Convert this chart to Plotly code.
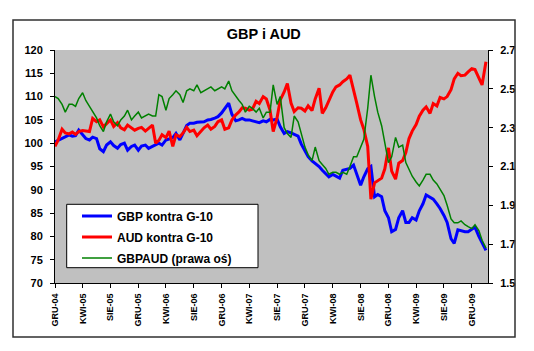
import pandas as pd
import plotly.graph_objects as go

# semi-monthly observation dates (1st and 15th of each month), Dec 2004 - Feb 2010
dates = pd.date_range("2004-12-01", periods=125, freq="SMS")

gbp_g10 = [100.3, 100.6, 101.0, 101.4, 101.8, 101.5, 101.6, 102.8, 101.8, 101.0,
           100.7, 101.3, 101.0, 98.8, 98.2, 99.6, 100.3, 99.5, 98.9, 99.7,
           100.0, 98.5, 99.3, 99.6, 98.5, 99.4, 99.6, 98.9, 99.3, 99.6,
           100.0, 99.6, 100.7, 100.9, 101.2, 102.1, 100.7, 102.1, 103.8, 104.3,
           104.3, 104.5, 104.6, 104.6, 105.0, 105.1, 105.4, 105.7, 106.5, 107.5,
           108.6, 106.2, 104.8, 105.0, 105.3, 105.0, 105.0, 104.8, 104.6, 104.4,
           104.8, 104.6, 105.1, 105.0, 105.2, 103.5, 102.1, 102.5, 102.2, 101.8,
           101.5, 99.8, 98.5, 97.1, 96.2, 95.7, 95.0, 94.2, 93.5, 92.8,
           93.3, 92.9, 92.5, 94.2, 94.4, 94.6, 95.3, 93.5, 91.0, 92.8,
           94.5, 95.0, 88.5, 89.0, 88.5, 85.5, 84.0, 81.0, 81.5, 84.0,
           85.5, 83.0, 83.0, 84.0, 83.5, 85.5, 87.0, 88.9, 88.5, 88.0,
           87.0, 86.0, 84.5, 83.0, 79.5, 78.5, 81.4, 81.2, 81.0, 81.0,
           81.5, 82.0, 80.0, 78.5, 77.0]

aud_g10 = [99.3, 100.7, 103.0, 102.2, 102.0, 102.4, 101.9, 102.5, 102.7, 102.6,
           102.5, 105.3, 104.6, 105.0, 103.5, 104.2, 105.0, 103.6, 104.4, 103.3,
           102.9, 103.9, 103.3, 102.8, 103.2, 103.4, 102.6, 103.2, 103.9, 100.0,
           100.6, 101.8, 101.2, 102.6, 99.3, 101.8, 101.4, 102.2, 103.4, 102.5,
           102.8, 101.6, 102.5, 103.3, 103.9, 103.0, 103.6, 104.6, 105.0, 103.0,
           103.3, 105.0, 106.1, 106.7, 107.6, 107.5, 107.1, 107.3, 109.0, 108.5,
           110.0, 109.5, 107.1, 102.5, 105.5, 109.3, 111.0, 112.8, 108.6, 106.8,
           107.6, 107.5, 106.9, 108.0, 107.0, 109.5, 111.8, 106.4, 107.6, 109.3,
           111.0, 112.1, 112.5, 113.2, 113.8, 114.6, 111.0, 108.6, 105.0, 103.0,
           99.3, 88.0, 91.5, 92.0, 92.5, 94.5, 99.0, 94.0, 92.3, 95.7,
           96.3, 98.0, 101.0, 102.6, 104.0, 105.8, 107.1, 107.8, 106.4, 108.5,
           108.0, 109.8, 109.5, 110.0, 111.5, 113.8, 115.0, 114.5, 114.6, 115.3,
           116.0, 115.8, 114.0, 112.5, 117.5]

gbpaud = [2.46, 2.45, 2.42, 2.38, 2.42, 2.42, 2.41, 2.45, 2.48, 2.44,
          2.41, 2.38, 2.35, 2.31, 2.28, 2.33, 2.37, 2.33, 2.31, 2.34,
          2.36, 2.39, 2.34, 2.36, 2.38, 2.35, 2.36, 2.37, 2.36, 2.36,
          2.47, 2.46, 2.39, 2.45, 2.47, 2.49, 2.47, 2.43, 2.49, 2.50,
          2.49, 2.52, 2.48, 2.49, 2.50, 2.51, 2.49, 2.50, 2.51, 2.50,
          2.54, 2.49, 2.46, 2.44, 2.42, 2.38, 2.41, 2.40, 2.38, 2.40,
          2.35, 2.38, 2.38, 2.52, 2.42, 2.46, 2.30, 2.27, 2.25, 2.36,
          2.33, 2.27, 2.20, 2.16, 2.13, 2.20, 2.13, 2.11, 2.09, 2.06,
          2.07, 2.07, 2.06, 2.07, 2.06, 2.10, 2.15, 2.15, 2.20, 2.24,
          2.40, 2.57, 2.46, 2.38, 2.31, 2.23, 2.12, 2.15, 2.25, 2.20,
          2.21, 2.12, 2.08, 2.05, 2.02, 2.00, 2.03, 2.06, 2.06, 2.03,
          2.01, 1.98, 1.95, 1.90, 1.83, 1.81, 1.81, 1.82, 1.80, 1.79,
          1.78, 1.80, 1.77, 1.72, 1.68]

tick_dates = pd.date_range("2004-12-01", "2009-12-01", freq="4MS")
tick_labels = ["GRU-04", "KWI-05", "SIE-05", "GRU-05", "KWI-06", "SIE-06", "GRU-06",
               "KWI-07", "SIE-07", "GRU-07", "KWI-08", "SIE-08", "GRU-08", "KWI-09",
               "SIE-09", "GRU-09"]

FONT = "Liberation Sans, Arial, sans-serif"

fig = go.Figure()
fig.add_trace(go.Scatter(x=dates, y=gbp_g10, mode="lines", name="GBP kontra G-10",
                         line=dict(color="#0000FF", width=3), legendgroup="a"))
fig.add_trace(go.Scatter(x=dates, y=aud_g10, mode="lines", name="AUD kontra G-10",
                         line=dict(color="#FF0000", width=3), legendgroup="b"))
fig.add_trace(go.Scatter(x=dates, y=gbpaud, mode="lines", name="GBPAUD (prawa oś)",
                         line=dict(color="#008000", width=1.5), yaxis="y2", legendgroup="c"))

axis_common = dict(showline=True, linecolor="black", linewidth=1, ticks="outside",
                   ticklen=4, tickcolor="black", showgrid=False, zeroline=False)

fig.update_layout(
    width=534, height=351,
    margin=dict(l=55, r=46, t=50, b=68),
    paper_bgcolor="white", plot_bgcolor="#C0C0C0",
    font=dict(family=FONT, color="black", size=11, weight="bold"),
    title=dict(text="GBP i AUD", x=0.494, xref="container", xanchor="center",
               y=1 - 34 / 351, yref="container", yanchor="middle",
               font=dict(size=14.5, family=FONT, weight="bold", color="black")),
    xaxis=dict(axis_common, type="date", range=["2004-12-01", "2010-02-10"],
               tickvals=list(tick_dates), ticktext=tick_labels, tickangle=-90,
               ticklabelstandoff=2,
               tickfont=dict(size=9, family=FONT, weight="bold")),
    yaxis=dict(axis_common, range=[70, 120], tickvals=list(range(70, 121, 5)),
               ticklabelstandoff=5,
               tickfont=dict(size=11, family=FONT, weight="bold")),
    yaxis2=dict(axis_common, overlaying="y", side="right", range=[1.5, 2.7],
                tickvals=[1.5, 1.7, 1.9, 2.1, 2.3, 2.5, 2.7], tickformat=".1f",
                ticklabelstandoff=5,
                tickfont=dict(size=11, family=FONT, weight="bold")),
    legend=dict(x=0.0508, y=0.350, xanchor="left", yanchor="top",
                bgcolor="rgba(0,0,0,0)", borderwidth=0, tracegroupgap=2,
                font=dict(size=12, family=FONT, weight="bold", color="black")),
    showlegend=True,
    shapes=[
        dict(type="rect", xref="paper", yref="paper",
             x0=(13 - 55) / 433, x1=(515 - 55) / 433,
             y0=(283 - 337) / 233, y1=(283 - 20) / 233,
             line=dict(color="#303030", width=1.5), fillcolor="rgba(0,0,0,0)", layer="above"),
        dict(type="rect", xref="paper", yref="paper",
             x0=(66.7 - 55) / 433, x1=(258 - 55) / 433,
             y0=(283 - 267.7) / 233, y1=(283 - 204.3) / 233,
             line=dict(color="black", width=1), fillcolor="white", layer="above"),
    ],
)

fig.write_html("out.html")
